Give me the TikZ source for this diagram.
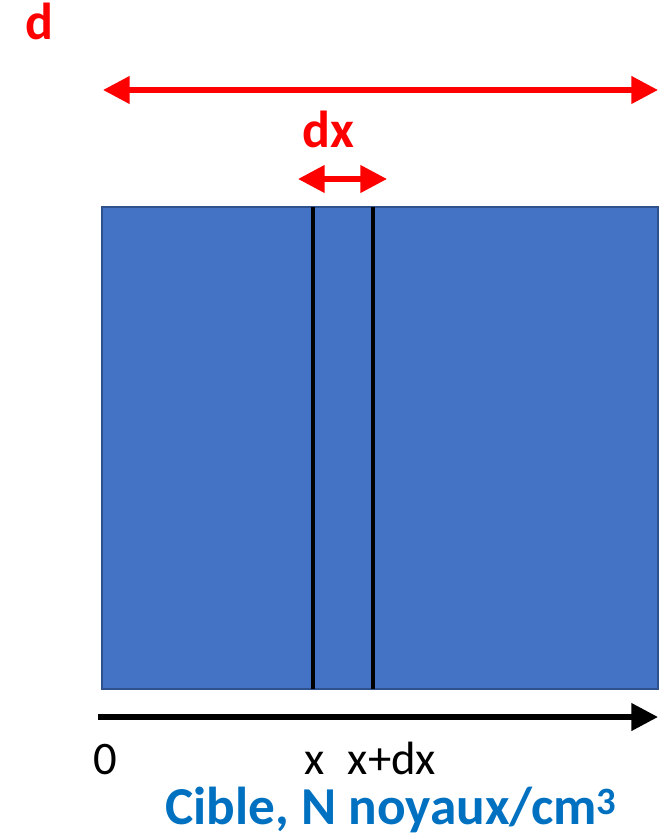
\documentclass[tikz,border=0pt]{standalone}
\usepackage{fontspec}
\setmainfont{Carlito}
\usetikzlibrary{arrows.meta,positioning}
\definecolor{cible}{HTML}{4472C4}
\definecolor{cibleb}{HTML}{2F528F}
\definecolor{legende}{HTML}{0070C0}
\tikzset{
  fleche/.style={line width=4pt,-{Triangle[length=20pt,width=20pt]}},
  dfleche/.style={line width=4pt,{Triangle[length=20pt,width=20pt]}-{Triangle[length=20pt,width=20pt]}},
  tranche/.style={line width=3.5pt,black},
  lab/.style={inner sep=0pt,anchor=base,font=\fontsize{35}{40}\selectfont}
}
\begin{document}
\begin{tikzpicture}[x=0.75pt,y=-0.75pt]
\useasboundingbox (0,0) rectangle (667,834);
% cible
\draw[fill=cible,draw=cibleb,line width=1pt] (102,207) rectangle (658,689);
\coordinate (xh) at (313,207);\coordinate (xb) at (313,689);
\coordinate (dxh) at (373,207);\coordinate (dxb) at (373,689);
\draw[tranche] (xh)--(xb);
\draw[tranche] (dxh)--(dxb);
% epaisseur d
\node[lab,red,font=\fontsize{39}{40}\selectfont\bfseries] (d) at (39,40) {d};
\coordinate (dg) at (103,90);\coordinate (dd) at (658,90);
\draw[dfleche,red] (dg)--(dd);
% tranche dx
\node[lab,red,font=\fontsize{39}{40}\selectfont\bfseries] (dx) at (328,148) {dx};
\coordinate (dxg) at (298,179);\coordinate (dxd) at (387,179);
\draw[dfleche,red] (dxg)--(dxd);
% axe
\coordinate (o) at (98,717);\coordinate (fin) at (658,717);
\draw[fleche,black] (o)--(fin);
\node[lab] (zero) at (105,774) {0};
\node[lab] (x) at (315,774) {x};
\node[lab] (xdx) at (392,774) {x+dx};
\node[lab,legende,font=\fontsize{40}{44}\selectfont\bfseries] (leg) at (391,824)
  {Cible, N noyaux/cm\raisebox{7pt}{\fontsize{29}{30}\selectfont 3}};
\end{tikzpicture}
\end{document}
